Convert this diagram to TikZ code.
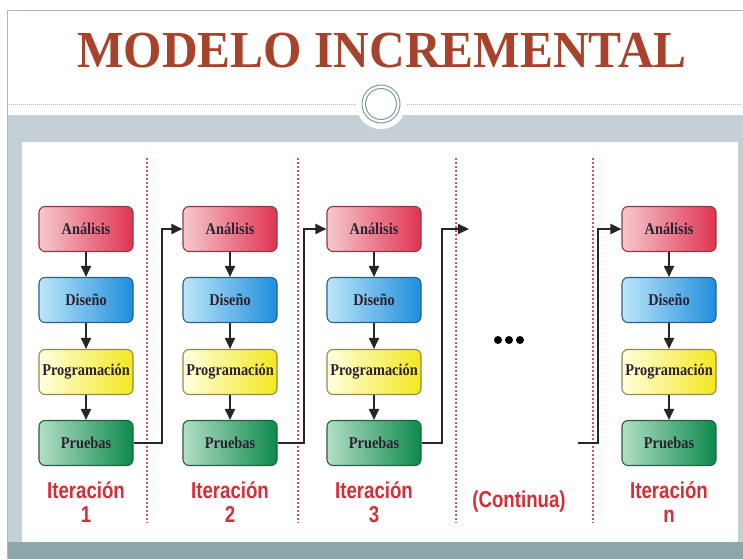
\documentclass[tikz,border=0pt]{standalone}
\usepackage{fontspec}
\setmainfont{Liberation Serif}[FakeStretch=0.87]
\newfontfamily\titlefont{Liberation Serif}[FakeStretch=0.95]
\newfontfamily\labelfont{Liberation Sans}[FakeStretch=0.81]
\usetikzlibrary{arrows.meta}

\definecolor{titlered}{HTML}{A8432B}
\definecolor{labelred}{HTML}{D42E36}
\definecolor{sepred}{HTML}{D8545C}
\definecolor{bandgray}{HTML}{C5D0D6}
\definecolor{bandteal}{HTML}{8BA7A9}
\definecolor{framegray}{HTML}{A9BBC1}
\definecolor{ringteal}{HTML}{7C9DA2}
\definecolor{boxtext}{HTML}{2B2233}
\definecolor{arrowgray}{HTML}{262626}
\definecolor{analight}{HTML}{F6C8CF}
\definecolor{anadark}{HTML}{DF3450}
\definecolor{anaborder}{HTML}{8E3A44}
\definecolor{dislight}{HTML}{BDE6FA}
\definecolor{disdark}{HTML}{1F8EDC}
\definecolor{disborder}{HTML}{2A5F86}
\definecolor{prolight}{HTML}{FFFFDC}
\definecolor{prodark}{HTML}{F4E81E}
\definecolor{proborder}{HTML}{8C8A52}
\definecolor{prulight}{HTML}{B2DEC6}
\definecolor{prudark}{HTML}{0D8A4B}
\definecolor{pruborder}{HTML}{285E42}

\begin{document}
\begin{tikzpicture}[x=1pt,y=-1pt,
    box/.style={rounded corners=6pt, line width=1.1pt, minimum width=94pt,
        minimum height=45pt, inner sep=0pt, text=boxtext,
        font=\bfseries\fontsize{16.5}{18}\selectfont},
    analisis/.style={box, draw=anaborder, left color=analight, right color=anadark},
    diseno/.style={box, draw=disborder, left color=dislight, right color=disdark},
    program/.style={box, draw=proborder, left color=prolight, right color=prodark},
    pruebas/.style={box, draw=pruborder, left color=prulight, right color=prudark},
    flow/.style={draw=arrowgray, line width=1.9pt, -{Triangle[length=11pt,width=10pt]}},
    sepline/.style={draw=sepred, line width=2.2pt, dash pattern=on 2pt off 2pt},
    itlabel/.style={text=labelred, align=center,
        font=\labelfont\bfseries\fontsize{23}{24}\selectfont}
]
    \useasboundingbox (0,0) rectangle (743,559);

    % slide background
    \fill[white] (0,0) rectangle (743,559);
    \fill[bandgray] (7,115) rectangle (743,542);
    \fill[bandteal] (7,542) rectangle (743,559);
    \draw[framegray, line width=0.8pt] (7,559) -- (7,10) -- (743,10);
    \fill[white] (22,142) rectangle (738,542);
    \draw[framegray, line width=0.8pt, dash pattern=on 1pt off 1pt] (7,104) -- (743,104);
    \fill[white] (381,104) circle[radius=25pt];
    \draw[ringteal, line width=1pt] (381,104) circle[radius=19pt];
    \draw[ringteal, line width=1pt] (381,104) circle[radius=15.5pt];

    \node[anchor=base, text=titlered, font=\titlefont\bfseries\fontsize{52}{56}\selectfont]
        (title) at (382,68) {MODELO INCREMENTAL};

    % separators
    \draw[sepline] (147,158) -- (147,523);
    \draw[sepline] (298,158) -- (298,523);
    \draw[sepline] (456,158) -- (456,523);
    \draw[sepline] (593,158) -- (593,523);

    % iteration 1
    \node[analisis] (an1) at (86,229) {Análisis};
    \node[diseno] (di1) at (86,300) {Diseño};
    \node[program] (pr1) at (86,372) {Programación};
    \node[pruebas] (pu1) at (86,443) {Pruebas};
    \node[itlabel] (it1) at (86,502) {Iteración\\1};

    % iteration 2
    \node[analisis] (an2) at (230,229) {Análisis};
    \node[diseno] (di2) at (230,300) {Diseño};
    \node[program] (pr2) at (230,372) {Programación};
    \node[pruebas] (pu2) at (230,443) {Pruebas};
    \node[itlabel] (it2) at (230,502) {Iteración\\2};

    % iteration 3
    \node[analisis] (an3) at (374,229) {Análisis};
    \node[diseno] (di3) at (374,300) {Diseño};
    \node[program] (pr3) at (374,372) {Programación};
    \node[pruebas] (pu3) at (374,443) {Pruebas};
    \node[itlabel] (it3) at (374,502) {Iteración\\3};

    % continua
    \fill[black] (498,340) circle[radius=4pt];
    \fill[black] (509,340) circle[radius=4pt];
    \fill[black] (520,340) circle[radius=4pt];
    \node[itlabel] (itc) at (519,502) {(Continua)};
    \coordinate (cont) at (469,229);
    \coordinate (back) at (578,443);

    % iteration n
    \node[analisis] (ann) at (669,229) {Análisis};
    \node[diseno] (din) at (669,300) {Diseño};
    \node[program] (prn) at (669,372) {Programación};
    \node[pruebas] (pun) at (669,443) {Pruebas};
    \node[itlabel] (itn) at (669,502) {Iteración\\n};

    % arrows inside each iteration
    \draw[flow] (an1) -- (di1);
    \draw[flow] (di1) -- (pr1);
    \draw[flow] (pr1) -- (pu1);
    \draw[flow] (an2) -- (di2);
    \draw[flow] (di2) -- (pr2);
    \draw[flow] (pr2) -- (pu2);
    \draw[flow] (an3) -- (di3);
    \draw[flow] (di3) -- (pr3);
    \draw[flow] (pr3) -- (pu3);
    \draw[flow] (ann) -- (din);
    \draw[flow] (din) -- (prn);
    \draw[flow] (prn) -- (pun);

    % from one iteration to the next
    \draw[flow] (pu1.east) -- ++(28,0) |- (an2.west);
    \draw[flow] (pu2.east) -- ++(26,0) |- (an3.west);
    \draw[flow] (pu3.east) -- ++(20,0) |- (cont);
    \draw[flow] (back) -- ++(20,0) |- (ann.west);
\end{tikzpicture}
\end{document}
